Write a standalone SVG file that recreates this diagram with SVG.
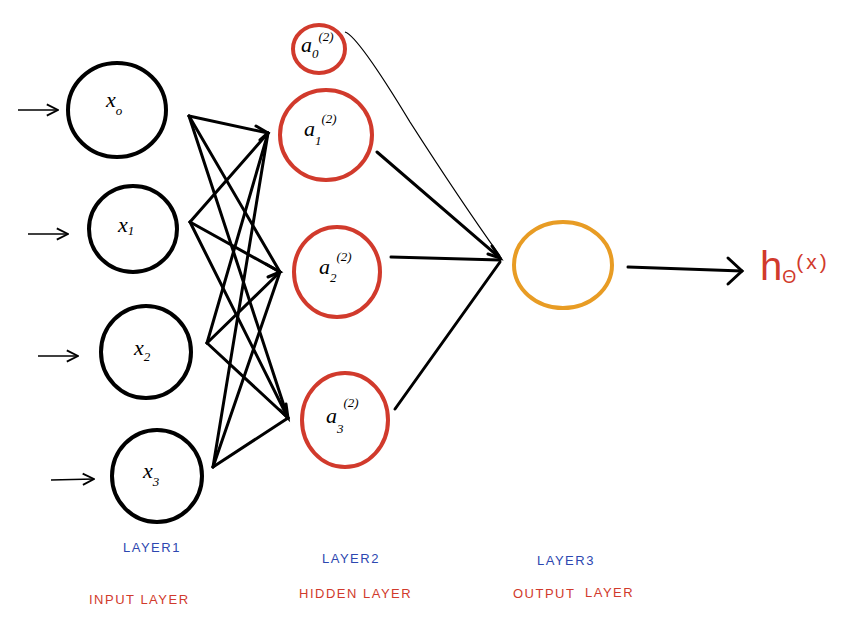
<svg xmlns="http://www.w3.org/2000/svg" width="864" height="635" viewBox="0 0 864 635">
<style>
.in{fill:none;stroke:#000;stroke-width:4}
.hid{fill:none;stroke:#d13a2c;stroke-width:4}
.out{fill:none;stroke:#e89c24;stroke-width:4}
.lbl{font-family:"Liberation Serif",serif;font-style:italic;font-size:22px;fill:#000}
.sub{font-size:13px}
.ln{stroke:#000;stroke-width:3;fill:none;stroke-linecap:round}
.thin{stroke:#000;stroke-width:1.3;fill:none}
.blue{font-family:"Liberation Sans",sans-serif;font-size:13px;letter-spacing:1.5px;fill:#2d47b0}
.red{font-family:"Liberation Sans",sans-serif;font-size:13px;letter-spacing:1.5px;fill:#d13a2c}
</style>
<defs>
<marker id="ahs" viewBox="0 0 10 10" refX="9" refY="5" markerWidth="14" markerHeight="14" orient="auto" markerUnits="userSpaceOnUse">
<path d="M1,1 L9,5 L1,9" fill="none" stroke="#000" stroke-width="1.3"/>
</marker>
</defs>
<g id="connectors">
<line class="thin" x1="18" y1="110" x2="58" y2="110" marker-end="url(#ahs)" stroke-width="1.6"/>
<line class="thin" x1="28" y1="234" x2="68" y2="234" marker-end="url(#ahs)" stroke-width="1.6"/>
<line class="thin" x1="38" y1="356" x2="78" y2="356" marker-end="url(#ahs)" stroke-width="1.6"/>
<line class="thin" x1="51" y1="480" x2="94" y2="479" marker-end="url(#ahs)" stroke-width="1.6"/>
<g class="ln">
<line x1="189" y1="116" x2="268" y2="133"/>
<line x1="189" y1="116" x2="280" y2="272"/>
<line x1="189" y1="116" x2="288" y2="418"/>
<line x1="190" y1="222" x2="268" y2="133"/>
<line x1="190" y1="222" x2="280" y2="272"/>
<line x1="190" y1="222" x2="288" y2="418"/>
<line x1="207" y1="343" x2="268" y2="133"/>
<line x1="207" y1="343" x2="280" y2="272"/>
<line x1="207" y1="343" x2="288" y2="418"/>
<line x1="213" y1="467" x2="268" y2="133"/>
<line x1="213" y1="467" x2="280" y2="272"/>
<line x1="213" y1="467" x2="288" y2="418"/>
<polyline points="256,126 268,133 260,140"/>
<polyline points="266,264 280,272 268,277"/>
<polyline points="286,404 288,418 280,410"/>
<line x1="377" y1="152" x2="500" y2="258"/>
<line x1="391" y1="257" x2="500" y2="260"/>
<line x1="395" y1="409" x2="500" y2="262"/>
<polyline points="488,254 500,258 492,246"/>
<line x1="628" y1="267" x2="742" y2="271"/>
<polyline points="728,258 742,271 728,284"/>
</g>
<path class="thin" d="M345,32 Q358,36 410,122 Q460,200 500,256"/>
</g>
<g id="x0"><ellipse class="in" cx="117" cy="110" rx="49" ry="47"/><text class="lbl" x="106" y="107">x<tspan class="sub" dy="8">o</tspan></text></g>
<g id="x1"><ellipse class="in" cx="133" cy="229" rx="44" ry="43"/><text class="lbl" x="118" y="232">x<tspan class="sub" dy="3">1</tspan></text></g>
<g id="x2"><ellipse class="in" cx="146" cy="352" rx="45" ry="46"/><text class="lbl" x="134" y="355">x<tspan class="sub" dy="6">2</tspan></text></g>
<g id="x3"><ellipse class="in" cx="157" cy="476" rx="45" ry="46"/><text class="lbl" x="143" y="478">x<tspan class="sub" dy="8">3</tspan></text></g>
<g id="a0"><ellipse class="hid" cx="319" cy="49" rx="26" ry="24"/><text class="lbl" x="301" y="52">a<tspan class="sub" dy="6">0</tspan><tspan class="sub" dy="-17">(2)</tspan></text></g>
<g id="a1"><ellipse class="hid" cx="326" cy="135" rx="46" ry="45"/><text class="lbl" x="304" y="136">a<tspan class="sub" dy="9">1</tspan><tspan class="sub" dy="-22">(2)</tspan></text></g>
<g id="a2"><ellipse class="hid" cx="337" cy="272" rx="43" ry="45"/><text class="lbl" x="319" y="274">a<tspan class="sub" dy="8">2</tspan><tspan class="sub" dy="-21">(2)</tspan></text></g>
<g id="a3"><ellipse class="hid" cx="345" cy="420" rx="43" ry="47"/><text class="lbl" x="326" y="423">a<tspan class="sub" dy="10">3</tspan><tspan class="sub" dy="-26">(2)</tspan></text></g>
<g id="out"><ellipse class="out" cx="563" cy="265" rx="49" ry="43"/></g>
<g id="hx"><text x="760" y="280" font-family="Liberation Sans,sans-serif" font-size="40" fill="#d13a2c">h<tspan font-size="18" dy="3">Θ</tspan><tspan font-size="21" dy="-14" letter-spacing="3">(x)</tspan></text></g>
<g id="labels">
<text class="blue" x="123" y="552">LAYER1</text>
<text class="blue" x="322" y="563">LAYER2</text>
<text class="blue" x="537" y="565">LAYER3</text>
<text class="red" x="89" y="604">INPUT LAYER</text>
<text class="red" x="299" y="598">HIDDEN LAYER</text>
<text class="red" x="513" y="598">OUTPUT</text>
<text class="red" x="585" y="597">LAYER</text>
</g>
</svg>
